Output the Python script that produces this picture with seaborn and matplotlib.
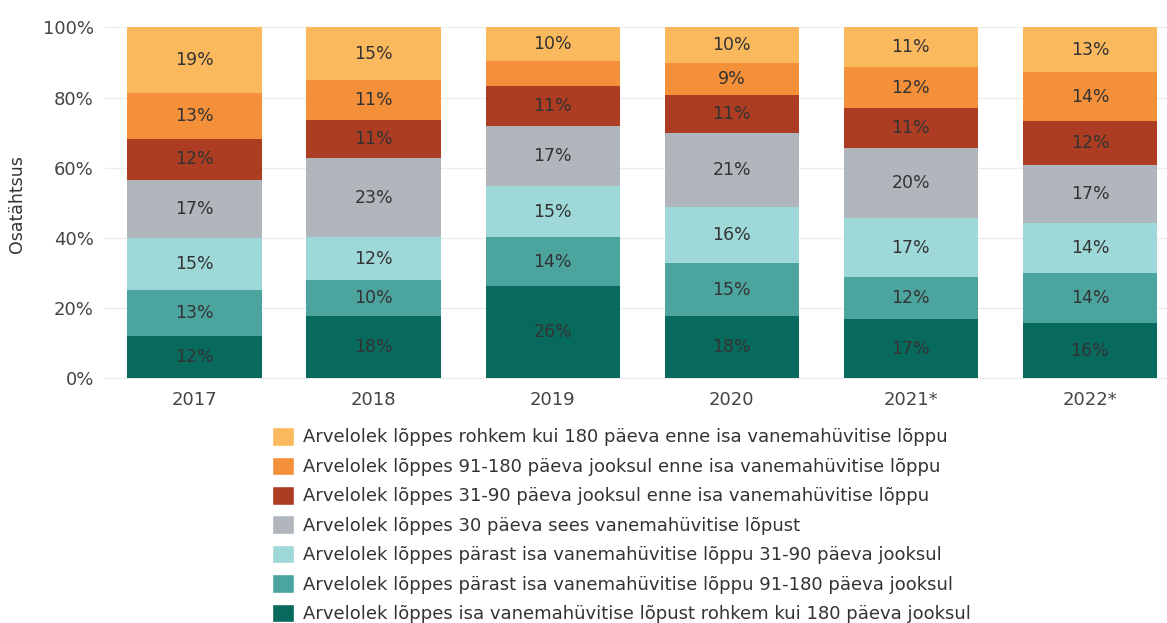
import pandas as pd
import seaborn as sns
import matplotlib.pyplot as plt
from matplotlib.patches import Patch

aastad = ['2017', '2018', '2019', '2020', '2021*', '2022*']

# categories from bottom of the stack to the top
kategooriad = [
    'Arvelolek lõppes isa vanemahüvitise lõpust rohkem kui 180 päeva jooksul',
    'Arvelolek lõppes pärast isa vanemahüvitise lõppu 91-180 päeva jooksul',
    'Arvelolek lõppes pärast isa vanemahüvitise lõppu 31-90 päeva jooksul',
    'Arvelolek lõppes 30 päeva sees vanemahüvitise lõpust',
    'Arvelolek lõppes 31-90 päeva jooksul enne isa vanemahüvitise lõppu',
    'Arvelolek lõppes 91-180 päeva jooksul enne isa vanemahüvitise lõppu',
    'Arvelolek lõppes rohkem kui 180 päeva enne isa vanemahüvitise lõppu',
]

ule180_parast = [12.1, 17.6, 26.3, 17.6, 16.7, 15.6]
parast_91_180 = [12.9, 10.3, 13.8, 15.1, 12.1, 14.2]
parast_31_90 = [14.9, 12.2, 14.7, 16.1, 16.7, 14.3]
sees_30 = [16.6, 22.6, 17.2, 21.0, 20.2, 16.7]
enne_31_90 = [11.8, 11.0, 11.3, 10.9, 11.2, 12.4]
enne_91_180 = [13.1, 11.4, 7.1, 9.2, 11.7, 14.0]
ule180_enne = [18.6, 14.9, 9.6, 10.1, 11.4, 12.8]

seeriad = [ule180_parast, parast_91_180, parast_31_90, sees_30,
           enne_31_90, enne_91_180, ule180_enne]

varvid = ['#08695d', '#4ba59e', '#9fd8d8', '#b0b6bc',
          '#ac3c22', '#f48f3a', '#fbb95e']

sns.set_style('white')
plt.rcParams['font.family'] = ['DejaVu Sans']

rows = []
for k, s in zip(kategooriad, seeriad):
    for a, v in zip(aastad, s):
        rows.append({'aasta': a, 'kategooria': k, 'osa': v})
df = pd.DataFrame(rows)
df['kum'] = df.groupby('aasta', sort=False)['osa'].cumsum()

fig = plt.figure(figsize=(11.67, 6.23), dpi=100)
ax = fig.add_axes([0.09, 0.39, 0.91, 0.566])

for y in range(0, 101, 20):
    ax.axhline(y, color='#ececec', lw=1, zorder=0)

# draw cumulative totals from the top layer down so each one covers the next
for k, c in list(zip(kategooriad, varvid))[::-1]:
    d = df[df['kategooria'] == k]
    sns.barplot(data=d, x='aasta', y='kum', order=aastad, color=c,
                saturation=1, width=0.75, linewidth=0, ax=ax, zorder=2)

for i, a in enumerate(aastad):
    d = df[df['aasta'] == a]
    for _, r in d.iterrows():
        if r['osa'] >= 8:
            ax.text(i, r['kum'] - r['osa'] / 2, f"{round(r['osa']):.0f}%",
                    ha='center', va='center', fontsize=12.5, color='#333333',
                    zorder=3)

ax.set_xlim(-0.5, 5.43)
ax.set_ylim(-0.6, 100)
ax.set_yticks(range(0, 101, 20))
ax.set_yticklabels([f'{y}%' for y in range(0, 101, 20)])
ax.tick_params(axis='both', labelsize=13, colors='#444444', length=0, pad=8)
ax.set_xlabel('')
ax.set_ylabel('Osatähtsus', fontsize=12.5, color='#333333', labelpad=12)
for s in ax.spines.values():
    s.set_visible(False)

handles = [Patch(facecolor=c, label=k) for k, c in zip(kategooriad, varvid)][::-1]
fig.legend(handles=handles, loc='upper left', bbox_to_anchor=(0.227, 0.326),
           frameon=False, fontsize=13, handlelength=1.2, handleheight=1.2,
           handletextpad=0.5, labelspacing=0.56, borderaxespad=0,
           labelcolor='#333333')

plt.savefig('out.png', dpi=100)
